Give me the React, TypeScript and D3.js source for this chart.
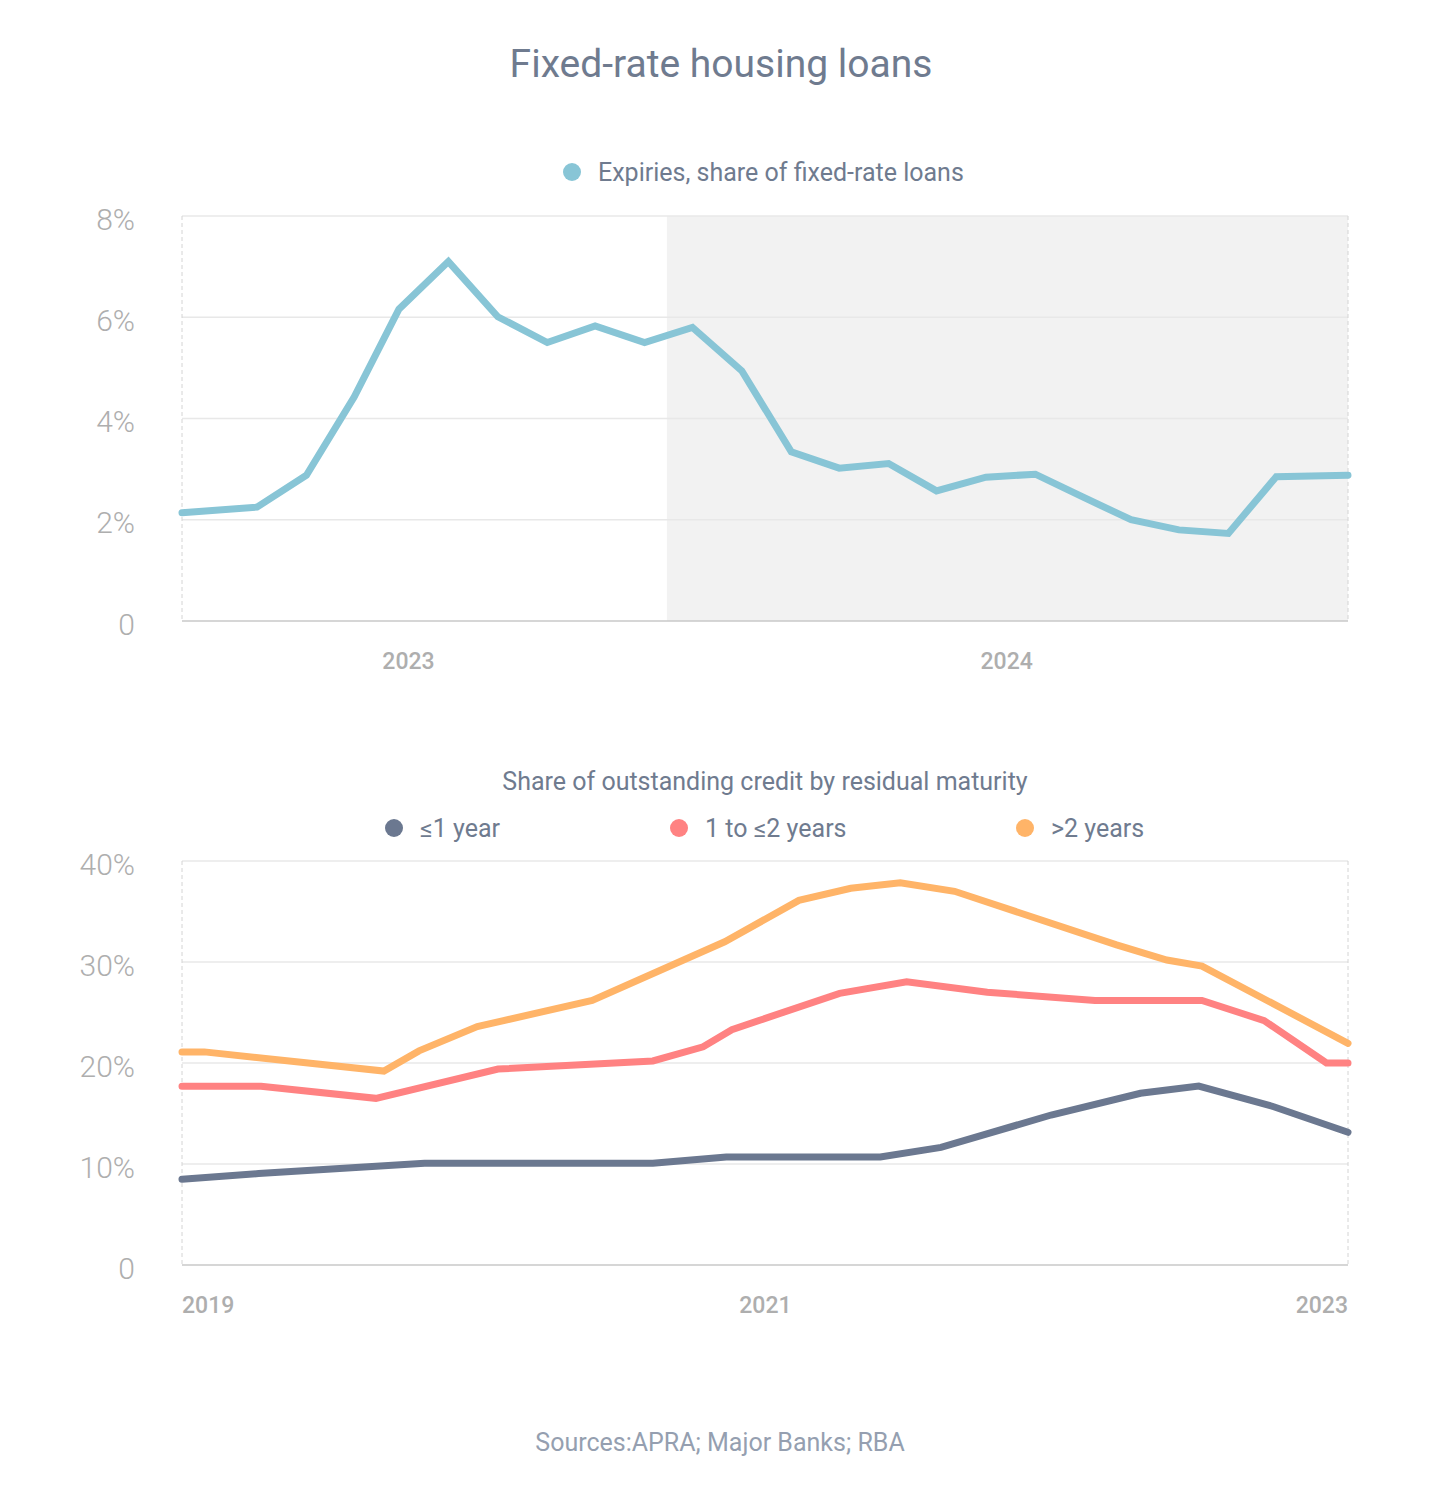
import React, { useEffect, useRef } from 'react';
import * as d3 from 'd3';

// Top panel: expiries as share of fixed-rate loans (%)
const expiryDates = [
  '2022-08-15', '2022-10-01', '2022-11-01', '2022-12-01', '2022-12-29', '2023-01-29',
  '2023-03-01', '2023-04-01', '2023-05-01', '2023-06-01', '2023-07-01', '2023-08-01',
  '2023-09-01', '2023-10-01', '2023-11-01', '2023-12-01', '2024-01-01', '2024-02-01',
  '2024-03-01', '2024-04-01', '2024-05-01', '2024-06-01', '2024-07-01', '2024-08-15',
];
const expiryValues = [
  2.14, 2.25, 2.88, 4.43, 6.16, 7.1, 6.01, 5.5, 5.83, 5.5, 5.8, 4.94,
  3.34, 3.02, 3.11, 2.57, 2.84, 2.9, 2.46, 2.0, 1.8, 1.73, 2.85, 2.88,
];
const expiryTickDates = ['2023-01-04', '2024-01-14'];
const expiryTickLabels = ['2023', '2024'];
const forecastStart = '2023-06-15';
const topYTicks = [0, 2, 4, 6, 8];

// Bottom panel: share of outstanding credit by residual maturity (%)
const shortDates = [
  '2019-01-01', '2019-04-07', '2019-11-01', '2020-08-13', '2020-11-13', '2021-05-25',
  '2021-08-09', '2021-12-25', '2022-04-16', '2022-06-28', '2022-09-30', '2023-01-01',
];
const shortValues = [8.5, 9.05, 10.07, 10.07, 10.7, 10.7, 11.65, 14.85, 17.0, 17.72, 15.67, 13.14];

const midDates = [
  '2019-01-01', '2019-04-10', '2019-09-01', '2020-02-01', '2020-08-13', '2020-10-15',
  '2020-11-20', '2021-04-04', '2021-06-27', '2021-10-06', '2022-02-18', '2022-07-02',
  '2022-09-18', '2022-12-05', '2023-01-01',
];
const midValues = [17.7, 17.7, 16.5, 19.4, 20.2, 21.6, 23.3, 26.9, 28.05, 27.0, 26.2, 26.2, 24.2, 20.0, 20.0];

const longDates = [
  '2019-01-01', '2019-01-29', '2019-09-11', '2019-10-25', '2020-01-06', '2020-05-29',
  '2020-11-11', '2021-02-12', '2021-04-18', '2021-06-19', '2021-08-26', '2022-03-17',
  '2022-05-19', '2022-07-02', '2023-01-01',
];
const longValues = [21.1, 21.1, 19.2, 21.2, 23.6, 26.2, 32.0, 36.1, 37.3, 37.85, 37.0, 31.7, 30.2, 29.6, 21.95];

const bottomTickDates = ['2019-01-01', '2021-01-01', '2023-01-01'];
const bottomTickLabels = ['2019', '2021', '2023'];
const bottomYTicks = [0, 10, 20, 30, 40];

const seriesNames = ['≤1 year', '1 to ≤2 years', '>2 years'];
const seriesColors = ['#6b7890', '#ff8282', '#ffb468'];

const FONT = 'Roboto, "Noto Sans", sans-serif';
const TEXT_COLOR = '#6f7b8f';
const AXIS_TEXT = '#aeaeae';

interface Pt { date: Date; value: number }

const toPoints = (dates: string[], values: number[]): Pt[] =>
  dates.map((d, i) => ({ date: new Date(d + 'T00:00:00'), value: values[i] }));

const App: React.FC = () => {
  const svgRef = useRef<SVGSVGElement>(null);

  useEffect(() => {
    if (!svgRef.current) return;
    const svg = d3.select(svgRef.current);
    svg.selectAll('*').remove();

    const left = 182;
    const right = 1348;

    // Title
    svg.append('text')
      .attr('x', 721).attr('y', 77)
      .attr('text-anchor', 'middle')
      .attr('font-family', FONT)
      .attr('font-size', 39)
      .attr('fill', TEXT_COLOR)
      .text('Fixed-rate housing loans');

    // ---------- Top panel ----------
    const topY0 = 621, topY1 = 216;
    const topData = toPoints(expiryDates, expiryValues);
    const xTop = d3.scaleTime()
      .domain([topData[0].date, topData[topData.length - 1].date])
      .range([left, right]);
    const yTop = d3.scaleLinear().domain([0, 8]).range([topY0, topY1]);

    // legend
    svg.append('circle').attr('cx', 572).attr('cy', 172).attr('r', 9).attr('fill', '#88c5d6');
    svg.append('text')
      .attr('x', 598).attr('y', 172)
      .attr('dominant-baseline', 'central')
      .attr('font-family', FONT).attr('font-size', 25)
      .attr('fill', TEXT_COLOR)
      .text('Expiries, share of fixed-rate loans');

    // forecast shading
    const shadeX = xTop(new Date(forecastStart + 'T00:00:00'));
    svg.append('rect')
      .attr('x', shadeX)
      .attr('y', topY1)
      .attr('width', right - shadeX)
      .attr('height', topY0 - topY1)
      .attr('fill', '#f2f2f2');

    drawFrame(svg, yTop, topYTicks, left, right, topY0, topY1, v => (v === 0 ? '0' : `${v}%`));

    expiryTickDates.forEach((d, i) => {
      svg.append('text')
        .attr('x', xTop(new Date(d + 'T00:00:00')))
        .attr('y', 669)
        .attr('text-anchor', 'middle')
        .attr('font-family', FONT).attr('font-size', 23).attr('font-weight', 500)
        .attr('fill', AXIS_TEXT)
        .text(expiryTickLabels[i]);
    });

    const topLine = d3.line<Pt>().x(d => xTop(d.date)).y(d => yTop(d.value));
    svg.append('path')
      .datum(topData)
      .attr('fill', 'none')
      .attr('stroke', '#88c5d6')
      .attr('stroke-width', 7)
      .attr('stroke-linecap', 'round')
      .attr('d', topLine);

    // ---------- Bottom panel ----------
    const botY0 = 1265, botY1 = 861;
    const xBot = d3.scaleTime()
      .domain([new Date('2019-01-01T00:00:00'), new Date('2023-01-01T00:00:00')])
      .range([left, right]);
    const yBot = d3.scaleLinear().domain([0, 40]).range([botY0, botY1]);

    svg.append('text')
      .attr('x', 765).attr('y', 781)
      .attr('text-anchor', 'middle')
      .attr('dominant-baseline', 'central')
      .attr('font-family', FONT).attr('font-size', 25)
      .attr('fill', TEXT_COLOR)
      .text('Share of outstanding credit by residual maturity');

    const legendX = [394, 679, 1025];
    seriesNames.forEach((name, i) => {
      svg.append('circle').attr('cx', legendX[i]).attr('cy', 828).attr('r', 9).attr('fill', seriesColors[i]);
      svg.append('text')
        .attr('x', legendX[i] + 26).attr('y', 828)
        .attr('dominant-baseline', 'central')
        .attr('font-family', FONT).attr('font-size', 25)
        .attr('fill', TEXT_COLOR)
        .text(name);
    });

    drawFrame(svg, yBot, bottomYTicks, left, right, botY0, botY1, v => (v === 0 ? '0' : `${v}%`));

    bottomTickDates.forEach((d, i) => {
      const anchor = i === 0 ? 'start' : i === bottomTickDates.length - 1 ? 'end' : 'middle';
      svg.append('text')
        .attr('x', xBot(new Date(d + 'T00:00:00')))
        .attr('y', 1313)
        .attr('text-anchor', anchor)
        .attr('font-family', FONT).attr('font-size', 23).attr('font-weight', 500)
        .attr('fill', AXIS_TEXT)
        .text(bottomTickLabels[i]);
    });

    const botLine = d3.line<Pt>().x(d => xBot(d.date)).y(d => yBot(d.value));
    const series = [
      toPoints(shortDates, shortValues),
      toPoints(midDates, midValues),
      toPoints(longDates, longValues),
    ];
    series.forEach((s, i) => {
      svg.append('path')
        .datum(s)
        .attr('fill', 'none')
        .attr('stroke', seriesColors[i])
        .attr('stroke-width', 7)
        .attr('stroke-linecap', 'round')
        .attr('d', botLine);
    });

    // Source
    svg.append('text')
      .attr('x', 720).attr('y', 1442)
      .attr('text-anchor', 'middle')
      .attr('dominant-baseline', 'central')
      .attr('font-family', FONT).attr('font-size', 25)
      .attr('fill', '#959fb0')
      .text('Sources:APRA; Major Banks; RBA');
  }, []);

  return (
    <svg
      ref={svgRef}
      width={1432}
      height={1490}
      style={{ position: 'absolute', left: 0, top: 0, background: '#fff' }}
    />
  );
};

function drawFrame(
  svg: d3.Selection<SVGSVGElement, unknown, null, undefined>,
  y: d3.ScaleLinear<number, number>,
  ticks: number[],
  left: number,
  right: number,
  y0: number,
  y1: number,
  fmt: (v: number) => string,
) {
  // horizontal grid
  ticks.filter(t => t !== 0).forEach(t => {
    svg.append('line')
      .attr('x1', left).attr('x2', right)
      .attr('y1', y(t)).attr('y2', y(t))
      .attr('stroke', '#e8e8e8').attr('stroke-width', 1.5);
  });
  // dashed vertical edges
  [left, right].forEach(x => {
    svg.append('line')
      .attr('x1', x).attr('x2', x)
      .attr('y1', y1).attr('y2', y0)
      .attr('stroke', '#d4d4d4').attr('stroke-width', 1)
      .attr('stroke-dasharray', '4,3');
  });
  // baseline
  svg.append('line')
    .attr('x1', left).attr('x2', right)
    .attr('y1', y0).attr('y2', y0)
    .attr('stroke', '#c8c8c8').attr('stroke-width', 1.5);
  // y labels
  ticks.forEach(t => {
    svg.append('text')
      .attr('x', 135).attr('y', y(t) + 3)
      .attr('text-anchor', 'end')
      .attr('dominant-baseline', 'central')
      .attr('font-family', FONT).attr('font-size', 30).attr('font-weight', 300)
      .attr('fill', AXIS_TEXT)
      .text(fmt(t));
  });
}

export default App;
